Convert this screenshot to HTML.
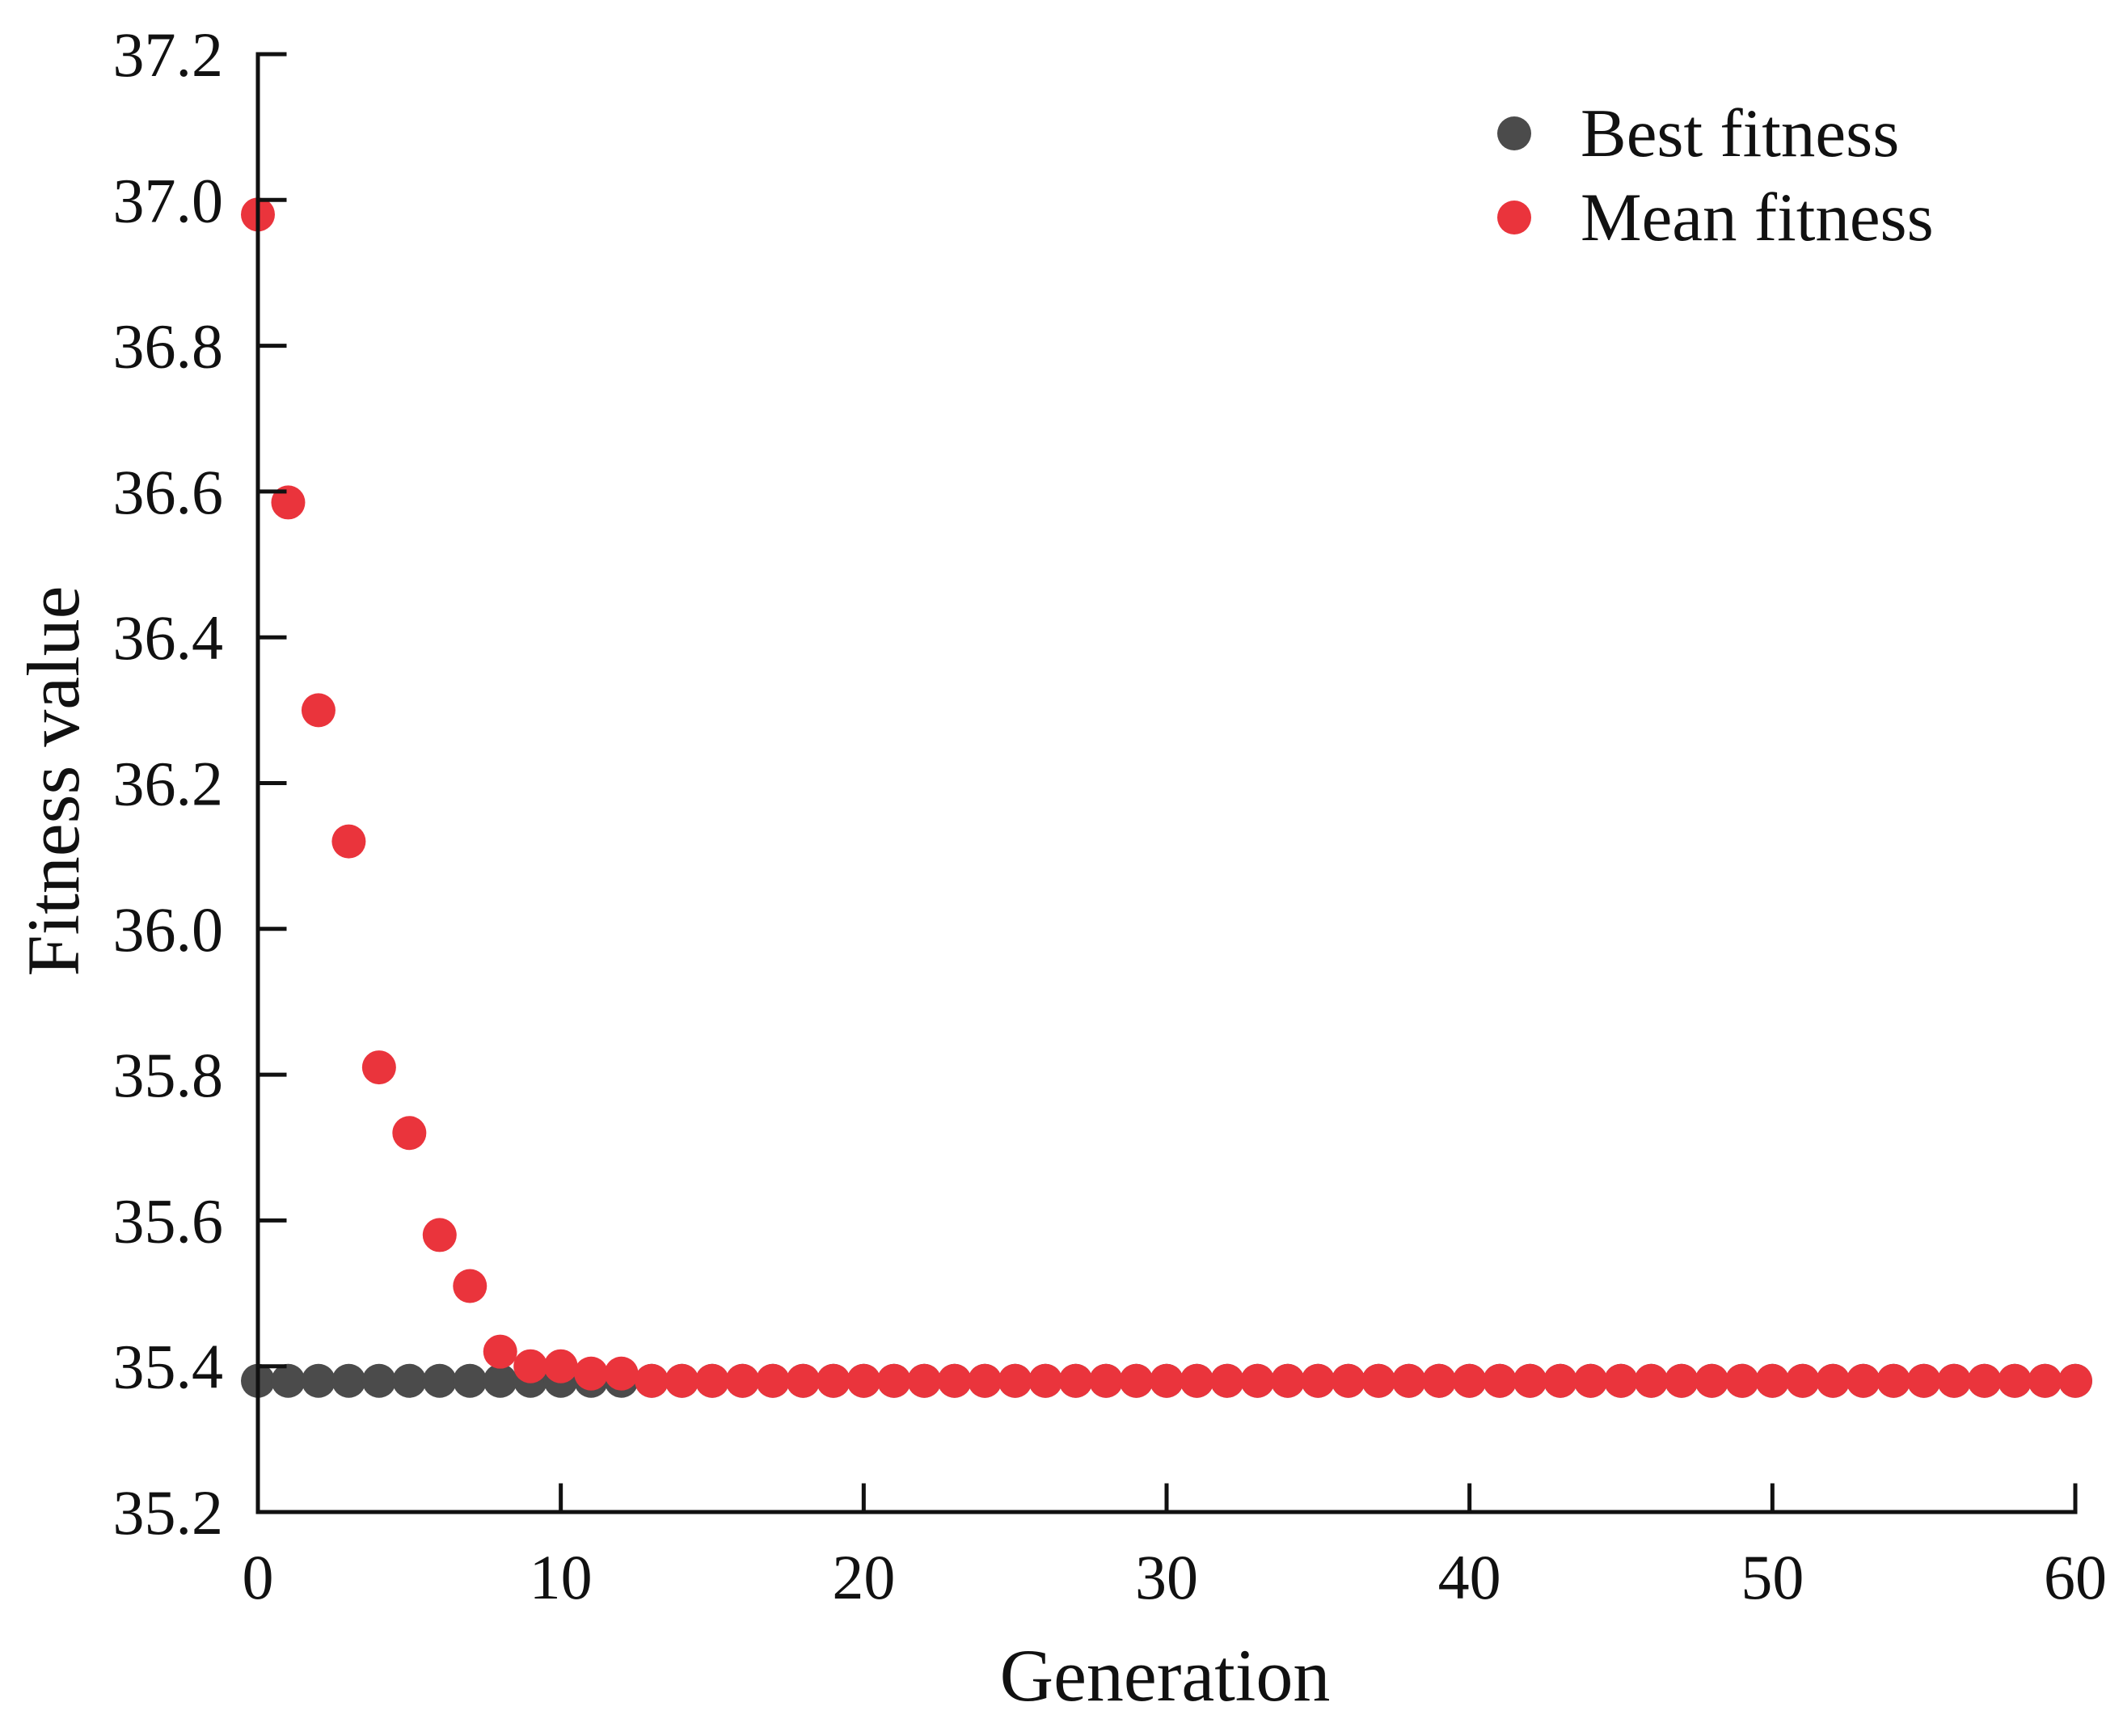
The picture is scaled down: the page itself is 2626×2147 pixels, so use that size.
<!DOCTYPE html>
<html><head><meta charset="utf-8"><style>
html,body{margin:0;padding:0;background:#fff;}
svg{display:block;}
text{font-family:"Liberation Serif",serif;fill:#111;}
</style></head><body>
<svg id="chart" width="2626" height="2147" viewBox="0 0 2626 2147" xmlns="http://www.w3.org/2000/svg">
<g id="marks"></g>
<g id="axes"></g>
<text x="76" y="966" font-size="92" text-anchor="middle" transform="rotate(-90 76 966)" dominant-baseline="middle">Fitness value</text>
<text x="1441" y="2103" font-size="92" text-anchor="middle">Generation</text>
<g>
<circle cx="1873" cy="165" r="21" fill="#4b4b4b"/>
<text x="1955" y="193" font-size="85">Best fitness</text>
<circle cx="1873" cy="269" r="21" fill="#ea343c"/>
<text x="1955" y="297" font-size="85">Mean fitness</text>
</g>
</svg>
<script>
const generations = Array.from({length:61},(_,i)=>i);
const meanHead = [36.98,36.585,36.30,36.12,35.81,35.72,35.58,35.51,35.42,35.40,35.40,35.39,35.39];
const meanTail = new Array(48).fill(35.38);
const meanFitness = meanHead.concat(meanTail);
const bestFitness = new Array(61).fill(35.38);
const xTicks = [0,10,20,30,40,50,60];
const yTicks = [35.2,35.4,35.6,35.8,36.0,36.2,36.4,36.6,36.8,37.0,37.2];

const X0=319, X1=2567, Y0=1870, Y1=67;
const xs = v => X0 + (v-0)/(60-0)*(X1-X0);
const ys = v => Y0 - (v-35.2)/(37.2-35.2)*(Y0-Y1);
const NS="http://www.w3.org/2000/svg";
const marks=document.getElementById('marks');
const axes=document.getElementById('axes');

function circ(x,y,fill,name){
  const c=document.createElementNS(NS,'circle');
  c.setAttribute('cx',x);c.setAttribute('cy',y);c.setAttribute('r',21);c.setAttribute('fill',fill);
  
  
  marks.appendChild(c);
}
bestFitness.forEach((v,i)=>circ(xs(generations[i]),ys(v),'#4b4b4b','best-point-'+i));
meanFitness.forEach((v,i)=>circ(xs(generations[i]),ys(v),'#ea343c','mean-point-'+i));

function line(x1,y1,x2,y2,name){
  const l=document.createElementNS(NS,'line');
  l.setAttribute('x1',x1);l.setAttribute('y1',y1);l.setAttribute('x2',x2);l.setAttribute('y2',y2);
  l.setAttribute('stroke','#111');l.setAttribute('stroke-width',5);l.setAttribute('stroke-linecap','square');
  
  
  axes.appendChild(l);
}
function txt(x,y,s,anchor,name){
  const t=document.createElementNS(NS,'text');
  t.setAttribute('x',x);t.setAttribute('y',y);t.setAttribute('font-size',78);t.setAttribute('text-anchor',anchor);
  t.textContent=s;
  
  
  axes.appendChild(t);
}
line(X0,Y1,X0,Y0,'y-axis-line');
line(X0,Y0,X1,Y0,'x-axis-line');
yTicks.forEach(v=>{
  line(X0,ys(v),X0+33,ys(v),'y-tick');
  txt(276,ys(v)+27,v.toFixed(1),'end','y-tick-label');
});
xTicks.forEach(v=>{
  line(xs(v),Y0,xs(v),Y0-33,'x-tick');
  txt(xs(v),1977,String(v),'middle','x-tick-label');
});
</script>
</body></html>
